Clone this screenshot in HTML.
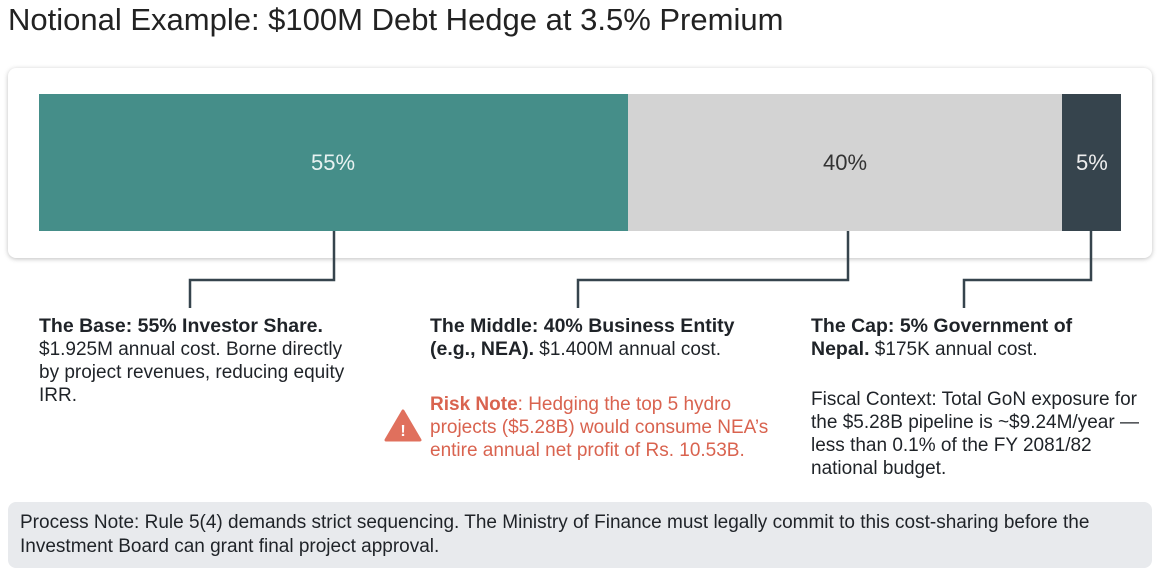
<!DOCTYPE html>
<html><head><meta charset="utf-8"><style>
body{margin:0;width:1160px;height:564px;background:#fff;position:relative;overflow:hidden;font-family:"Liberation Sans",sans-serif;color:#1f2328}
.a{position:absolute;white-space:nowrap}
.t{font-size:19px;line-height:23px}
.h{font-size:19.5px;font-weight:bold}
b{font-weight:bold}
</style></head><body>
<div class="a" style="left:8px;top:2px;font-size:31px;color:#222">Notional Example: $100M Debt Hedge at 3.5% Premium</div>
<div class="a" style="left:8px;top:68px;width:1144px;height:190px;background:#fff;border-radius:8px;box-shadow:0 1px 5px rgba(0,0,0,0.25)"></div>
<div class="a" style="left:39px;top:94px;width:589px;height:137px;background:#458e89"></div>
<div class="a" style="left:628px;top:94px;width:434px;height:137px;background:#d3d3d3"></div>
<div class="a" style="left:1062px;top:94px;width:59px;height:137px;background:#36444d"></div>
<div class="a" style="left:311px;top:150px;font-size:22px;color:#e8f2f1">55%</div>
<div class="a" style="left:823px;top:150px;font-size:22px;color:#333">40%</div>
<div class="a" style="left:1076px;top:150px;font-size:22px;color:#eee">5%</div>
<svg class="a" style="left:0;top:0" width="1160" height="564"><g fill="none" stroke="#36444d" stroke-width="2.5">
<polyline points="334,231 334,280 190,280 190,308"/>
<polyline points="848,231 848,280 578,280 578,308"/>
<polyline points="1091,231 1091,280 964,280 964,308"/></g>
<path d="M403,411 L420,440 L386,440 Z" fill="#e0705d" stroke="#e0705d" stroke-width="3" stroke-linejoin="round"/>
<text x="403" y="436" text-anchor="middle" font-family="Liberation Sans" font-weight="bold" font-size="16" fill="#fff">!</text></svg>
<div class="a t" style="left:39px;top:315px"><span class="h">The Base: 55% Investor Share.</span><br>$1.925M annual cost. Borne directly<br>by project revenues, reducing equity<br>IRR.</div>
<div class="a t" style="left:430px;top:315px"><span class="h">The Middle: 40% Business Entity</span><br><span class="h">(e.g., NEA).</span> $1.400M annual cost.</div>
<div class="a t" style="left:430px;top:393px;color:#d9634f"><b>Risk Note</b>: Hedging the top 5 hydro<br>projects ($5.28B) would consume NEA’s<br>entire annual net profit of Rs. 10.53B.</div>
<div class="a t" style="left:811px;top:315px"><span class="h">The Cap: 5% Government of</span><br><span class="h">Nepal.</span> $175K annual cost.</div>
<div class="a t" style="left:811px;top:388px">Fiscal Context: Total GoN exposure for<br>the $5.28B pipeline is ~$9.24M/year —<br>less than 0.1% of the FY 2081/82<br>national budget.</div>
<div class="a" style="left:8px;top:502px;width:1144px;height:66px;background:#e8eaed;border-radius:8px"></div>
<div class="a" style="left:20px;top:511px;font-size:19px;line-height:24px">Process Note: Rule 5(4) demands strict sequencing. The Ministry of Finance must legally commit to this cost-sharing before the<br>Investment Board can grant final project approval.</div>
</body></html>
